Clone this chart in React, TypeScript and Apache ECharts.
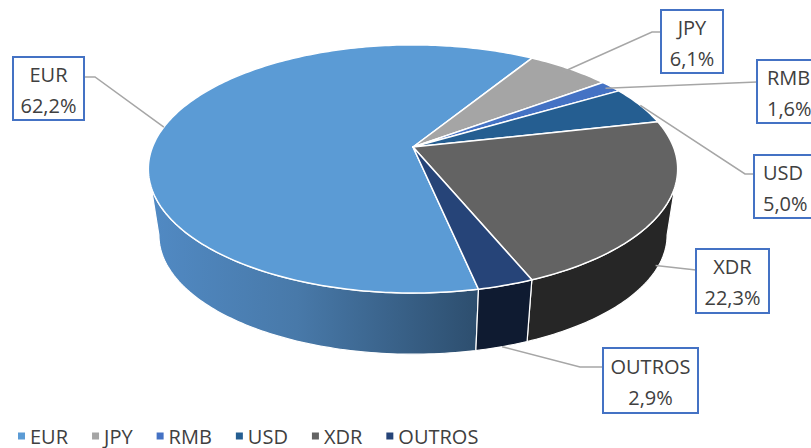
import React, { useEffect, useRef } from "react";
import * as echarts from "echarts";

// ---- data ----
const categories = ["EUR", "JPY", "RMB", "USD", "XDR", "OUTROS"];
const shares = [62.2, 6.1, 1.6, 5.0, 22.3, 2.9];
const topColors = ["#5B9BD5", "#A5A5A5", "#4472C4", "#255E91", "#636363", "#264478"];
const sideColors = ["#4A80B6", "#7D7D7D", "#33569A", "#1C476E", "#262626", "#0F1B31"];

// ---- layout (positions / styles only) ----
const CX = 413;
const CY = 147;
const RX = 260.5;
const RY = 120.2;
const PERSP = 0.177;
const BOTTOM_SCALE = 0.96;
const DEPTH = 67;
const START_ANGLE = 168;
const FRONT_A = (Math.acos(-PERSP) * 180) / Math.PI;
const FRONT_B = 360 - FRONT_A;

type LabelLayout = {
  box: [number, number, number, number];
  leader: number[][];
  r: number;
  h: number;
  textX?: number;
};
const labelLayouts: LabelLayout[] = [
  { box: [13, 57, 71, 63], leader: [[84, 77], [95, 77]], r: 1, h: 0 },
  { box: [661, 10, 62, 63], leader: [[661, 32], [652, 32]], r: 0.95, h: 0 },
  { box: [757, 60, 72, 63], leader: [[757, 82]], r: 0.97, h: 0, textX: 767 },
  { box: [754, 155, 72, 63], leader: [[754, 174], [745, 174]], r: 1, h: 0, textX: 763 },
  { box: [696, 249, 73, 64], leader: [[696, 270]], r: 1, h: 0.9 },
  { box: [603, 348, 95, 65], leader: [[603, 367], [580, 367]], r: 1, h: 1 },
];

function project(deg: number, r: number, level: number): number[] {
  const t = (deg * Math.PI) / 180;
  const u = r * Math.sin(t);
  const v = -r * Math.cos(t);
  const s = 1 / (1 - PERSP * v);
  const xt = CX + RX * u * s;
  const yt = CY + RY * v * s;
  const xb = CX + BOTTOM_SCALE * RX * u * s;
  const yb = CY + DEPTH + BOTTOM_SCALE * RY * v * s;
  return [xt + (xb - xt) * level, yt + (yb - yt) * level];
}

function fmt(v: number): string {
  return v.toFixed(1).replace(".", ",") + "%";
}

export default function App() {
  const ref = useRef<HTMLDivElement>(null);
  useEffect(() => {
    if (!ref.current) return;
    const chart = echarts.init(ref.current, undefined, { renderer: "svg" });
    const total = shares.reduce((a, b) => a + b, 0);

    const renderItem = (params: any, api: any) => {
      const i = params.dataIndex;
      const val = api.value(0);
      let before = 0;
      for (let j = 0; j < i; j++) before += shares[j];
      const a0 = START_ANGLE + (before / total) * 360;
      const a1 = a0 + (val / total) * 360;
      const children: any[] = [];

      // top face
      const pts: number[][] = [[CX, CY]];
      const n = Math.max(2, Math.ceil(a1 - a0));
      for (let k = 0; k <= n; k++) pts.push(project(a0 + ((a1 - a0) * k) / n, 1, 0));
      children.push({
        type: "polygon",
        shape: { points: pts },
        style: { fill: topColors[i], stroke: "#ffffff", lineWidth: 1.5, lineJoin: "round" },
        z2: 10,
      });

      // side walls
      for (const off of [0, 360]) {
        const lo = Math.max(a0, FRONT_A + off);
        const hi = Math.min(a1, FRONT_B + off);
        if (hi > lo) {
          const top: number[][] = [];
          const bot: number[][] = [];
          const m = Math.max(2, Math.ceil(hi - lo));
          for (let k = 0; k <= m; k++) {
            const ang = lo + ((hi - lo) * k) / m;
            top.push(project(ang, 1, 0));
            bot.push(project(ang, 1, 1));
          }
          const fill =
            i === 0
              ? new echarts.graphic.LinearGradient(0, 0, 1, 0, [
                  { offset: 0, color: "#518AC4" },
                  { offset: 0.45, color: "#4879A9" },
                  { offset: 1, color: "#2D4E6E" },
                ])
              : sideColors[i];
          children.push({
            type: "polygon",
            shape: { points: top.concat(bot.reverse()) },
            style: { fill, stroke: "#ffffff", lineWidth: 1.2 },
            z2: 5,
          });
        }
      }

      // label
      const L = labelLayouts[i];
      const mid = (a0 + a1) / 2;
      const anchor = project(mid, L.r, L.h);
      children.push({
        type: "polyline",
        shape: { points: [...L.leader, anchor] },
        style: { stroke: "#A6A6A6", lineWidth: 1.5, fill: null },
        z2: 15,
      });
      const [bx, by, bw, bh] = L.box;
      children.push({
        type: "rect",
        shape: { x: bx, y: by, width: bw, height: bh },
        style: { fill: "#ffffff", stroke: "#4472C4", lineWidth: 2 },
        z2: 20,
      });
      children.push({
        type: "text",
        x: L.textX !== undefined ? L.textX : bx + bw / 2,
        y: by + bh / 2 + 1,
        style: {
          text: categories[i] + "\n" + fmt(val),
          fill: "#404040",
          font: '20px "Open Sans"',
          align: L.textX !== undefined ? "left" : "center",
          verticalAlign: "middle",
          lineHeight: 31,
        },
        z2: 21,
      });
      return { type: "group", children };
    };

    chart.setOption({
      animation: false,
      legend: {
        data: categories,
        left: 18,
        top: 426,
        padding: 0,
        icon: "rect",
        itemWidth: 7,
        itemHeight: 7,
        itemGap: 24,
        selectedMode: false,
        textStyle: { fontFamily: "Open Sans", fontSize: 20, color: "#404040" },
      },
      series: [
        {
          type: "custom",
          coordinateSystem: "none",
          renderItem,
          data: shares,
          silent: true,
        },
        {
          type: "pie",
          radius: [0, 0],
          center: [-100, -100],
          silent: true,
          label: { show: false },
          labelLine: { show: false },
          data: categories.map((c, i) => ({
            name: c,
            value: shares[i],
            itemStyle: { color: topColors[i] },
          })),
        },
      ],
    });
    return () => chart.dispose();
  }, []);
  return (
    <div
      ref={ref}
      style={{ position: "absolute", left: 0, top: 0, width: 811, height: 448, background: "#fff" }}
    />
  );
}
